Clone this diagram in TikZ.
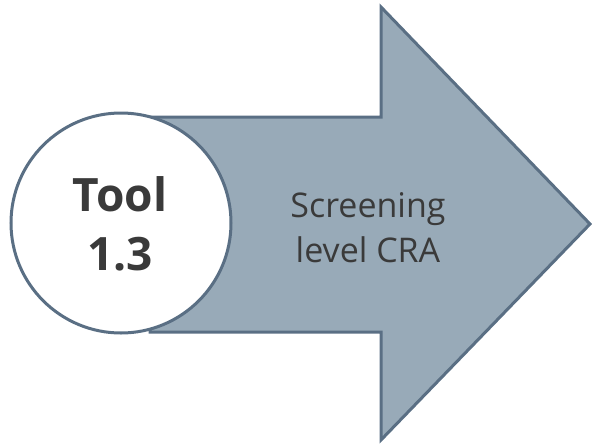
\documentclass[tikz,border=0pt]{standalone}
\usepackage{fontspec}
\setmainfont{Open Sans}
\definecolor{arrowfill}{HTML}{98AAB8}
\definecolor{arrowline}{HTML}{5A6F84}
\definecolor{txt}{HTML}{3A3A3A}
\begin{document}
\begin{tikzpicture}[x=1pt,y=-1pt,
  shapeline/.style={draw=arrowline,line width=3pt,line join=miter},
  lbl/.style={text=txt,align=center,inner sep=0pt}]
\useasboundingbox (0,0) rectangle (592,445);
\draw[shapeline,fill=arrowfill] (150,117) -- (381,117) -- (381,7) -- (590,224) -- (381,440) -- (381,332) -- (150,332) -- cycle;
\node[shapeline,fill=white,circle,minimum size=220pt,inner sep=0pt] (c) at (121,223) {};
\node[lbl,font=\fontsize{46}{59}\selectfont\bfseries] (t) at (120,224) {Tool\\1.3};
\node[lbl,font=\fontsize{34}{45}\selectfont] (s) at (368,228) {Screening\\level CRA};
\end{tikzpicture}
\end{document}
